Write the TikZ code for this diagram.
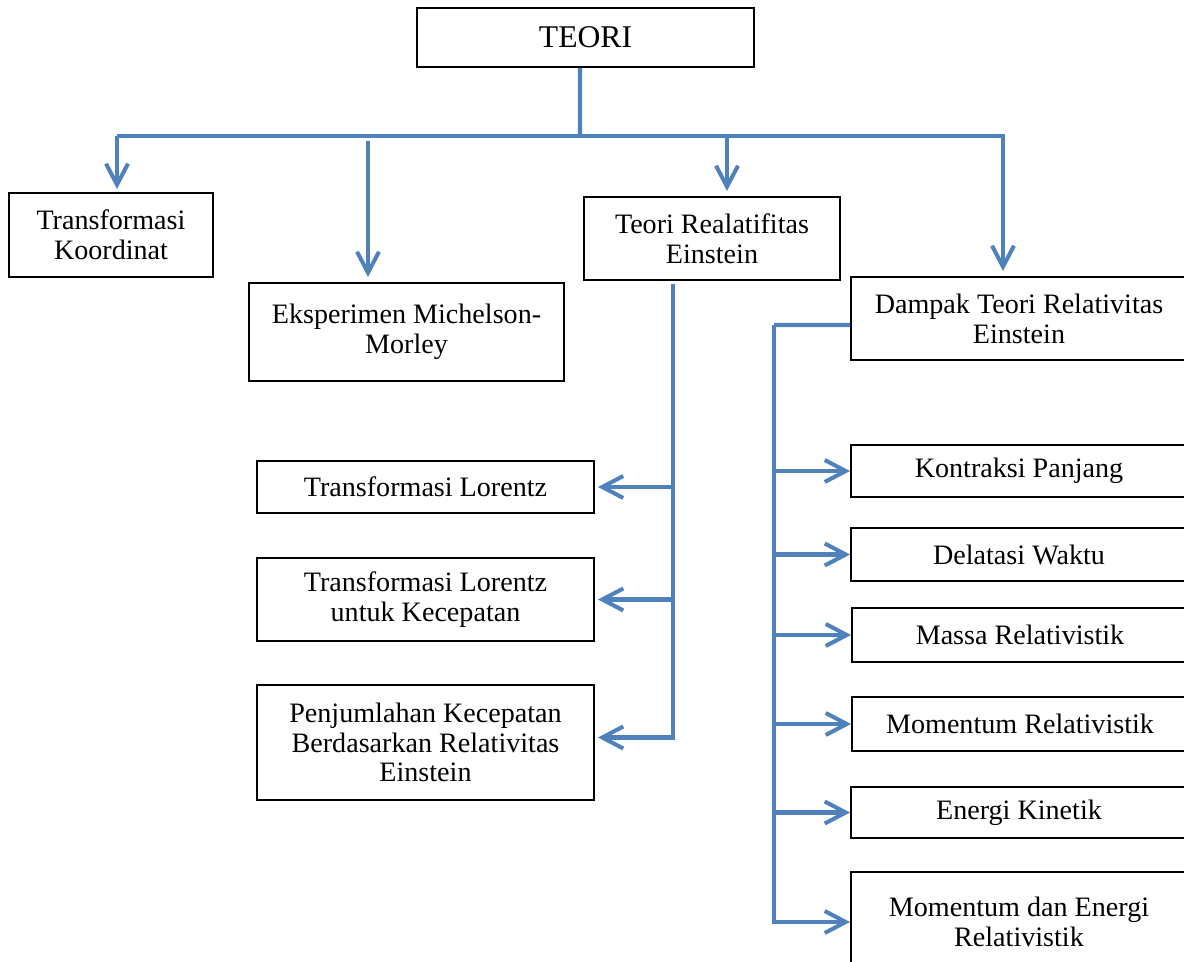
\documentclass[tikz,border=0pt]{standalone}
\usepackage{fontspec}
\setmainfont{Liberation Serif}
\usepackage{tikz}
\usetikzlibrary{arrows.meta}
\definecolor{linkblue}{RGB}{79,129,189}
\tikzstyle{box} = [draw, line width=1.1pt, align=center, inner sep=0pt, font=\fontsize{16}{17}\selectfont]
\tikzstyle{link} = [draw=linkblue, line width=2.3pt]
\tikzstyle{arrow} = [link, -{Straight Barb[length=0.42cm, width=0.44cm, line width=2.3pt]}]

\begin{document}
\begin{tikzpicture}[x=0.02cm, y=-0.02cm]
        \useasboundingbox (0,0) rectangle (1184,962);

        \node (teori) [box, minimum width=6.74cm, minimum height=1.18cm, font=\fontsize{18}{20}\selectfont] at (585.5,37.5) {TEORI};
        \node (koordinat) [box, minimum width=4.08cm, minimum height=1.68cm] at (111,235) {Transformasi\\Koordinat};
        \node (michelson) [box, minimum width=6.3cm, minimum height=1.96cm] at (406.5,332) {Eksperimen Michelson-\\Morley};
        \node (einstein) [box, minimum width=5.12cm, minimum height=1.66cm] at (712,238.5) {Teori Realatifitas\\Einstein};
        \node (dampak) [box, minimum width=6.72cm, minimum height=1.66cm] at (1019,318.5) {Dampak Teori Relativitas\\Einstein};

        \node (lorentz) [box, minimum width=6.74cm, minimum height=1.04cm] at (425.5,487) {Transformasi Lorentz};
        \node (kecepatan) [box, minimum width=6.74cm, minimum height=1.66cm] at (425.5,599.5) {Transformasi Lorentz\\untuk Kecepatan};
        \node (penjumlahan) [box, minimum width=6.74cm, minimum height=2.3cm] at (425.5,742.5) {Penjumlahan Kecepatan\\Berdasarkan Relativitas\\Einstein};

        \node (kontraksi) [box, minimum width=6.72cm, minimum height=1.04cm] at (1019,471) {Kontraksi Panjang};
        \node (delatasi) [box, minimum width=6.72cm, minimum height=1.06cm] at (1019,554.5) {Delatasi Waktu};
        \node (massa) [box, minimum width=6.72cm, minimum height=1.08cm] at (1020,635) {Massa Relativistik};
        \node (momentum) [box, minimum width=6.72cm, minimum height=1.08cm] at (1020,724) {Momentum Relativistik};
        \node (energi) [box, minimum width=6.72cm, minimum height=1.02cm] at (1019,812.5) {Energi Kinetik};
        \node (momenergi) [box, minimum width=6.72cm, minimum height=2cm] at (1019,922) {Momentum dan Energi\\Relativistik};

        \coordinate (bus) at (580,136);
        \coordinate (bus_left) at (117,136);
        \coordinate (bus_right) at (1003,136);
        \coordinate (michelson_top) at (368,141);
        \coordinate (einstein_top) at (727,136);
        \coordinate (einstein_down) at (673,284);
        \coordinate (dampak_turn) at (774,325);

        \draw [link] ([xshift=-0.11cm]teori.south) -- (bus);
        \draw [link] (bus_left) -- (bus_right);
        \draw [arrow] (bus_left) -- ([yshift=0.06cm]bus_left |- koordinat.north);
        \draw [arrow] (michelson_top) -- ([yshift=0.1cm]michelson_top |- michelson.north);
        \draw [arrow] (einstein_top) -- ([yshift=0.1cm]einstein_top |- einstein.north);
        \draw [arrow] ([yshift=0.04cm]bus_right) -- ([yshift=0.1cm]bus_right |- dampak.north);

        \draw [arrow] (einstein_down) |- ([yshift=0.1cm, xshift=0.06cm]penjumlahan.east);
        \foreach \n in {lorentz, kecepatan}
            \draw [arrow] (einstein_down |- \n.east) -- ([xshift=0.06cm]\n.east);

        \draw [link] ([yshift=-0.13cm]dampak.west) -- (dampak_turn);
        \draw [arrow] (dampak_turn) |- (momenergi.west);
        \foreach \n in {kontraksi, delatasi, massa, momentum, energi}
            \draw [arrow] (dampak_turn |- \n.west) -- (\n.west);

    \end{tikzpicture}
\end{document}
